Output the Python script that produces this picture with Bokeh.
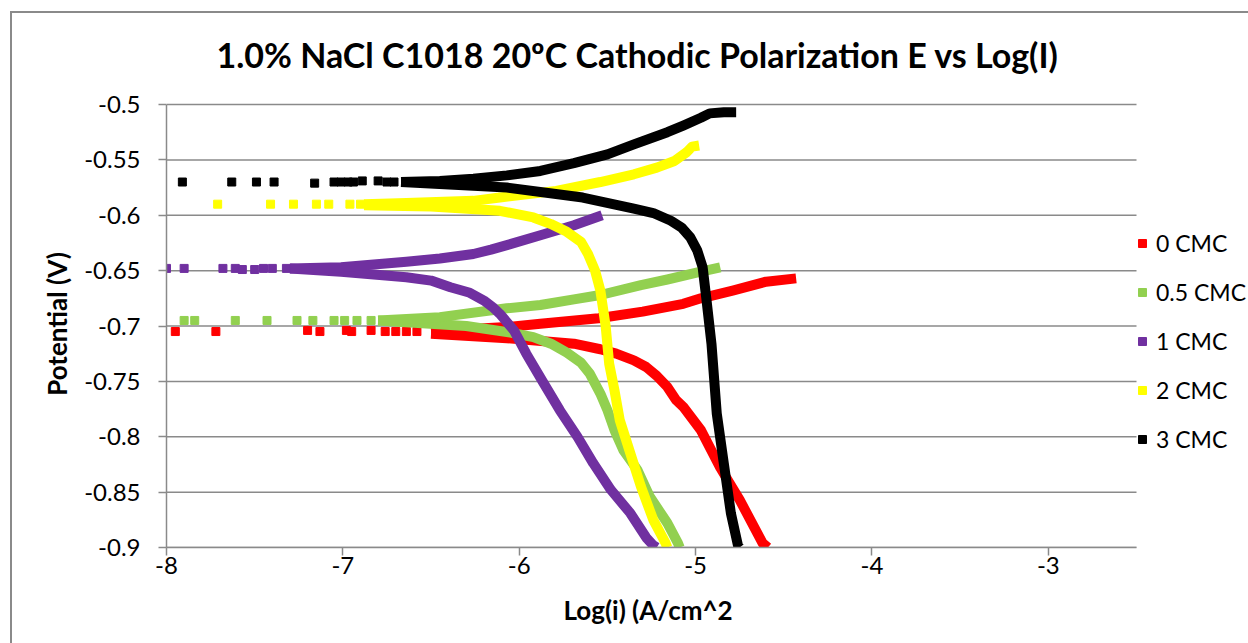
from bokeh.plotting import figure
from bokeh.models import Range1d, FixedTicker, Legend, LegendItem, Title
from bokeh.embed import file_html
from bokeh.resources import INLINE

FONT = "Lato"
GRID = "#8a8a8a"

# ---- data: log current density (A/cm^2) vs potential (V) ----
series_names = ["0 CMC", "0.5 CMC", "1 CMC", "2 CMC", "3 CMC"]
series_colors = ["#ff0000", "#92d050", "#7030a0", "#ffff00", "#000000"]

# 0 CMC
cmc0_sparse_x = [-7.95, -7.72, -7.20, -7.13, -6.98, -6.95, -6.84, -6.76, -6.70, -6.64, -6.58]
cmc0_sparse_y = [-0.705, -0.705, -0.704, -0.705, -0.704, -0.705, -0.704, -0.705, -0.705, -0.705, -0.705]
cmc0_cath_x = [-6.50, -6.07, -5.69, -5.54, -5.45, -5.35, -5.28, -5.22, -5.16, -5.11, -5.07, -4.97, -4.86,
               -4.75, -4.62, -4.59]
cmc0_cath_y = [-0.707, -0.711, -0.716, -0.721, -0.725, -0.731, -0.737, -0.745, -0.755, -0.767, -0.773, -0.794,
               -0.828, -0.857, -0.896, -0.900]
cmc0_anod_x = [-6.50, -6.30, -6.07, -5.88, -5.55, -5.30, -5.07, -4.97, -4.79, -4.60, -4.43]
cmc0_anod_y = [-0.705, -0.703, -0.701, -0.698, -0.693, -0.687, -0.680, -0.675, -0.668, -0.660, -0.657]

# 0.5 CMC
cmc05_sparse_x = [-7.90, -7.84, -7.61, -7.43, -7.26, -7.17, -7.05, -6.99, -6.92, -6.84]
cmc05_sparse_y = [-0.695, -0.695, -0.695, -0.695, -0.695, -0.695, -0.695, -0.695, -0.695, -0.695]
cmc05_cath_x = [-6.80, -6.30, -6.05, -5.92, -5.82, -5.73, -5.65, -5.60, -5.54, -5.50, -5.46, -5.41, -5.33,
                -5.26, -5.16, -5.10, -5.09]
cmc05_cath_y = [-0.695, -0.700, -0.706, -0.710, -0.716, -0.724, -0.733, -0.743, -0.761, -0.776, -0.794, -0.812,
                -0.830, -0.854, -0.878, -0.896, -0.900]
cmc05_anod_x = [-6.80, -6.45, -6.07, -5.88, -5.69, -5.54, -5.31, -5.16, -4.97, -4.86]
cmc05_anod_y = [-0.695, -0.692, -0.684, -0.681, -0.676, -0.672, -0.663, -0.658, -0.651, -0.647]

# 1 CMC
cmc1_sparse_x = [-8.00, -7.90, -7.68, -7.61, -7.57, -7.50, -7.45, -7.40, -7.32]
cmc1_sparse_y = [-0.648, -0.648, -0.648, -0.648, -0.649, -0.649, -0.648, -0.648, -0.648]
cmc1_cath_x = [-7.30, -7.01, -6.64, -6.50, -6.39, -6.28, -6.20, -6.15, -6.11, -6.03, -5.96, -5.86, -5.77,
               -5.67, -5.58, -5.48, -5.37, -5.28, -5.24, -5.22]
cmc1_cath_y = [-0.648, -0.651, -0.656, -0.659, -0.665, -0.670, -0.677, -0.683, -0.689, -0.704, -0.725, -0.752,
               -0.776, -0.800, -0.824, -0.848, -0.869, -0.891, -0.898, -0.900]
cmc1_anod_x = [-7.30, -7.01, -6.64, -6.45, -6.26, -6.16, -6.07, -5.88, -5.69, -5.53]
cmc1_anod_y = [-0.648, -0.647, -0.642, -0.639, -0.635, -0.631, -0.627, -0.618, -0.609, -0.600]

# 2 CMC
cmc2_sparse_x = [-7.71, -7.41, -7.28, -7.15, -7.08, -6.96, -6.90]
cmc2_sparse_y = [-0.590, -0.590, -0.590, -0.590, -0.590, -0.590, -0.590]
cmc2_cath_x = [-6.88, -6.50, -6.11, -5.92, -5.82, -5.73, -5.65, -5.61, -5.57, -5.54, -5.51, -5.49, -5.46,
               -5.43, -5.37, -5.31, -5.24, -5.17, -5.16]
cmc2_cath_y = [-0.591, -0.592, -0.596, -0.602, -0.608, -0.615, -0.624, -0.635, -0.650, -0.668, -0.700, -0.734,
               -0.758, -0.785, -0.815, -0.845, -0.875, -0.896, -0.900]
cmc2_anod_x = [-6.88, -6.64, -6.26, -6.11, -5.79, -5.54, -5.35, -5.22, -5.12, -5.05, -5.02, -4.98]
cmc2_anod_y = [-0.590, -0.589, -0.587, -0.584, -0.578, -0.570, -0.563, -0.557, -0.551, -0.543, -0.538, -0.537]

# 3 CMC
cmc3_sparse_x = [-7.91, -7.63, -7.49, -7.39, -7.16, -7.05, -7.01, -6.97, -6.94, -6.89, -6.80, -6.75, -6.71]
cmc3_sparse_y = [-0.570, -0.570, -0.570, -0.570, -0.571, -0.570, -0.570, -0.570, -0.570, -0.569, -0.569, -0.570, -0.570]
cmc3_cath_x = [-6.67, -6.07, -5.64, -5.35, -5.24, -5.14, -5.08, -5.03, -4.99, -4.96, -4.94, -4.91, -4.88,
               -4.84, -4.80, -4.76, -4.75]
cmc3_cath_y = [-0.570, -0.575, -0.584, -0.594, -0.598, -0.605, -0.611, -0.620, -0.632, -0.647, -0.674, -0.716,
               -0.779, -0.824, -0.869, -0.898, -0.900]
cmc3_anod_x = [-6.67, -6.45, -6.26, -6.07, -5.88, -5.69, -5.50, -5.35, -5.16, -5.07, -4.97, -4.92, -4.84, -4.77]
cmc3_anod_y = [-0.570, -0.569, -0.567, -0.564, -0.560, -0.553, -0.545, -0.536, -0.525, -0.519, -0.512, -0.508,
               -0.507, -0.507]

x_ticks = [-8, -7, -6, -5, -4, -3]
x_tick_labels = ["-8", "-7", "-6", "-5", "-4", "-3"]
y_ticks = [-0.9, -0.85, -0.8, -0.75, -0.7, -0.65, -0.6, -0.55, -0.5]
y_tick_labels = ["-0.9", "-0.85", "-0.8", "-0.75", "-0.7", "-0.65", "-0.6", "-0.55", "-0.5"]
x_min, x_max = -8, -2.5
y_min, y_max = -0.9, -0.5

series = [
    (cmc0_sparse_x, cmc0_sparse_y, cmc0_cath_x, cmc0_cath_y, cmc0_anod_x, cmc0_anod_y),
    (cmc05_sparse_x, cmc05_sparse_y, cmc05_cath_x, cmc05_cath_y, cmc05_anod_x, cmc05_anod_y),
    (cmc1_sparse_x, cmc1_sparse_y, cmc1_cath_x, cmc1_cath_y, cmc1_anod_x, cmc1_anod_y),
    (cmc2_sparse_x, cmc2_sparse_y, cmc2_cath_x, cmc2_cath_y, cmc2_anod_x, cmc2_anod_y),
    (cmc3_sparse_x, cmc3_sparse_y, cmc3_cath_x, cmc3_cath_y, cmc3_anod_x, cmc3_anod_y),
]

# layout (pixels): the frame runs to the right canvas edge so the legend
# beside the plot area is not clipped; the value axes stop at x_max / y_max.
W, H = 1248, 643
LEFT, TOP, BOTTOM = 166, 100, 96
AXIS_W = 970                    # pixel width of x_min..x_max
TOP_PAD = 4                     # pixels between y_max and the frame top
frame_w = W - LEFT
frame_h = H - TOP - BOTTOM
x_end = x_min + (x_max - x_min) * frame_w / AXIS_W
y_end = y_min + (y_max - y_min) * frame_h / (frame_h - TOP_PAD)

p = figure(width=W, height=H, output_backend="svg", toolbar_location=None,
           x_range=Range1d(x_min, x_end), y_range=Range1d(y_min, y_end),
           min_border_left=LEFT, min_border_right=0,
           min_border_top=TOP, min_border_bottom=BOTTOM)
p.outline_line_color = None
p.background_fill_color = "white"
p.border_fill_alpha = 0
# outer chart frame drawn behind the canvas
p.styles = {
    "background": ("linear-gradient(#8a8a8a, #8a8a8a) 10px 11px / 2px 100% no-repeat, "
                   "linear-gradient(#8a8a8a, #8a8a8a) 10px 11px / 100% 2px no-repeat, white"),
}

# title
p.title.text = "1.0% NaCl C1018 20\u00baC Cathodic Polarization E vs Log(I)"
p.title.text_font = FONT
p.title.text_font_size = "34px"
p.title.text_font_style = "bold"
p.title.text_color = "#000000"
p.title.align = "left"
p.title.offset = 50
p.title.standoff = 51

# axes
p.xaxis.ticker = FixedTicker(ticks=x_ticks, minor_ticks=[])
p.yaxis.ticker = FixedTicker(ticks=y_ticks, minor_ticks=[])
p.xaxis.major_label_overrides = {t: s for t, s in zip(x_ticks, x_tick_labels)}
p.yaxis.major_label_overrides = {t: s for t, s in zip(y_ticks, y_tick_labels)}
p.xaxis.bounds = (x_min, x_max)
p.yaxis.bounds = (y_min, y_max)
for ax in (p.xaxis, p.yaxis):
    ax.axis_line_color = GRID
    ax.axis_line_width = 1.5
    ax.major_tick_line_color = GRID
    ax.major_tick_line_width = 1.5
    ax.major_tick_in = 0
    ax.major_tick_out = 8
    ax.minor_tick_out = 0
    ax.minor_tick_in = 0
    ax.major_label_text_font = FONT
    ax.major_label_text_font_size = "24px"
    ax.major_label_text_color = "#000000"
p.xaxis.major_label_standoff = 1
p.yaxis.major_label_standoff = 18
p.yaxis.axis_label = "Potential (V)"
p.yaxis.axis_label_text_font = FONT
p.yaxis.axis_label_text_font_size = "26px"
p.yaxis.axis_label_text_font_style = "bold"
p.yaxis.axis_label_text_color = "#000000"
p.yaxis.axis_label_standoff = 8

# x axis title, centred under the value range (the frame itself is wider)
p.add_layout(Title(text="Log(i) (A/cm^2", text_font=FONT, text_font_size="26px",
                   text_font_style="bold", text_color="#000000",
                   align="left", offset=397, standoff=31), "below")

# horizontal gridlines across the value range only
p.xgrid.visible = False
p.ygrid.visible = False
n = len(y_ticks)
p.segment(x0=[x_min] * n, y0=y_ticks, x1=[x_max] * n, y1=y_ticks,
          line_color=GRID, line_width=1.5, level="underlay")

# curves: cathodic and anodic branches as thick traces, points near E_corr as squares
items = []
for name, color, (sx, sy, cx, cy, ax_, ay) in zip(series_names, series_colors, series):
    p.line(cx, cy, line_width=10, line_color=color, line_join="round", line_cap="butt")
    p.line(ax_, ay, line_width=10, line_color=color, line_join="round", line_cap="butt")
    r = p.scatter(sx, sy, marker="square", size=8, fill_color=color, line_color=color)
    items.append(LegendItem(label=name, renderers=[r]))

legend = Legend(items=items, location=(966, 94))
legend.border_line_color = None
legend.background_fill_alpha = 0
legend.padding = 0
legend.margin = 0
legend.spacing = 21
legend.glyph_width = 20
legend.glyph_height = 20
legend.label_height = 20
legend.label_standoff = 4
legend.label_text_font = FONT
legend.label_text_font_size = "23px"
legend.label_text_color = "#000000"
p.add_layout(legend)

open("out.html", "w").write(file_html(p, INLINE))
